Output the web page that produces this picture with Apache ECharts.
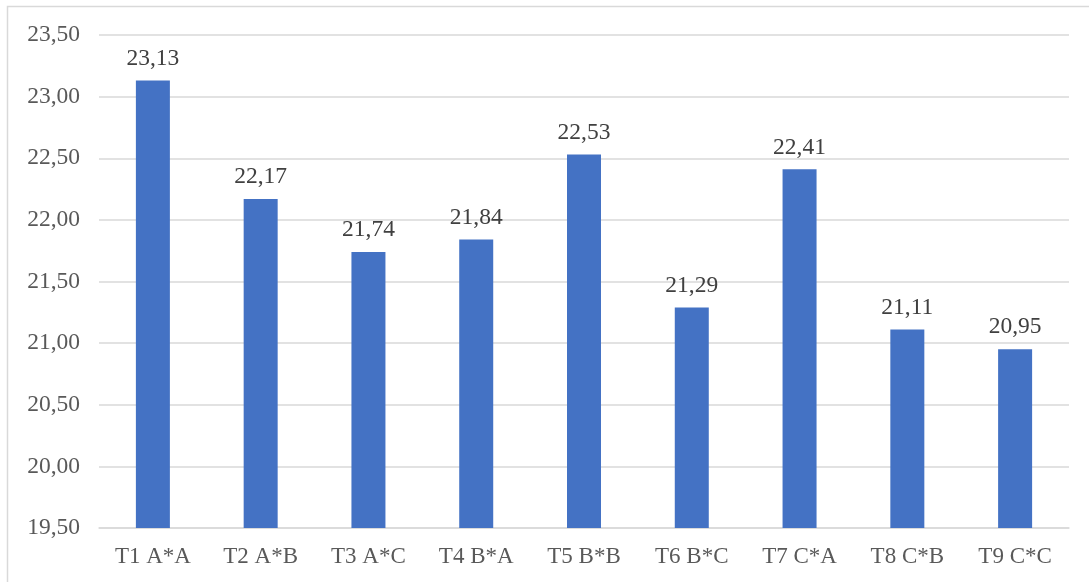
<!DOCTYPE html>
<html>
<head>
<meta charset="utf-8">
<style>
  html, body { margin: 0; padding: 0; background: #ffffff; }
  #chart { width: 1089px; height: 582px; }
</style>
<script src="https://cdn.jsdelivr.net/npm/echarts@6/dist/echarts.min.js"></script>
</head>
<body>
<div id="chart"></div>
<script>
// Treatment combinations and their measured means
const categories = ['T1 A*A', 'T2 A*B', 'T3 A*C', 'T4 B*A', 'T5 B*B', 'T6 B*C', 'T7 C*A', 'T8 C*B', 'T9 C*C'];
const values = [23.13, 22.17, 21.74, 21.84, 22.53, 21.29, 22.41, 21.11, 20.95];
const yMin = 19.5;
const yMax = 23.5;
const yStep = 0.5;

const fmt = v => v.toFixed(2).replace('.', ',');
const font = '"Liberation Serif", "Times New Roman", serif';

const chart = echarts.init(document.getElementById('chart'));
chart.setOption({
  backgroundColor: '#ffffff',
  animation: false,
  graphic: [{
    type: 'rect',
    shape: { x: 7.5, y: 6.5, width: 1100, height: 600 },
    style: { fill: 'none', stroke: '#d9d9d9', lineWidth: 1.5 },
    silent: true
  }],
  grid: { left: 99, right: 20, top: 35, bottom: 54 },
  xAxis: {
    type: 'category',
    data: categories,
    axisLine: { show: true, lineStyle: { color: '#d9d9d9', width: 1.5 } },
    axisTick: { show: false },
    axisLabel: { color: '#595959', fontFamily: font, fontSize: 23, margin: 17 }
  },
  yAxis: {
    type: 'value',
    min: yMin,
    max: yMax,
    interval: yStep,
    axisLine: { show: false },
    axisTick: { show: false },
    splitLine: { lineStyle: { color: '#d9d9d9', width: 1.5 } },
    axisLabel: {
      color: '#595959', fontFamily: font, fontSize: 23.5, margin: 19,
      formatter: v => fmt(v)
    }
  },
  series: [{
    type: 'bar',
    data: values,
    barWidth: 34,
    itemStyle: { color: '#4472c4' },
    label: {
      show: true,
      position: 'top',
      distance: 10,
      color: '#404040',
      fontFamily: font,
      fontSize: 23.5,
      formatter: p => fmt(p.value)
    }
  }]
});
</script>
</body>
</html>
